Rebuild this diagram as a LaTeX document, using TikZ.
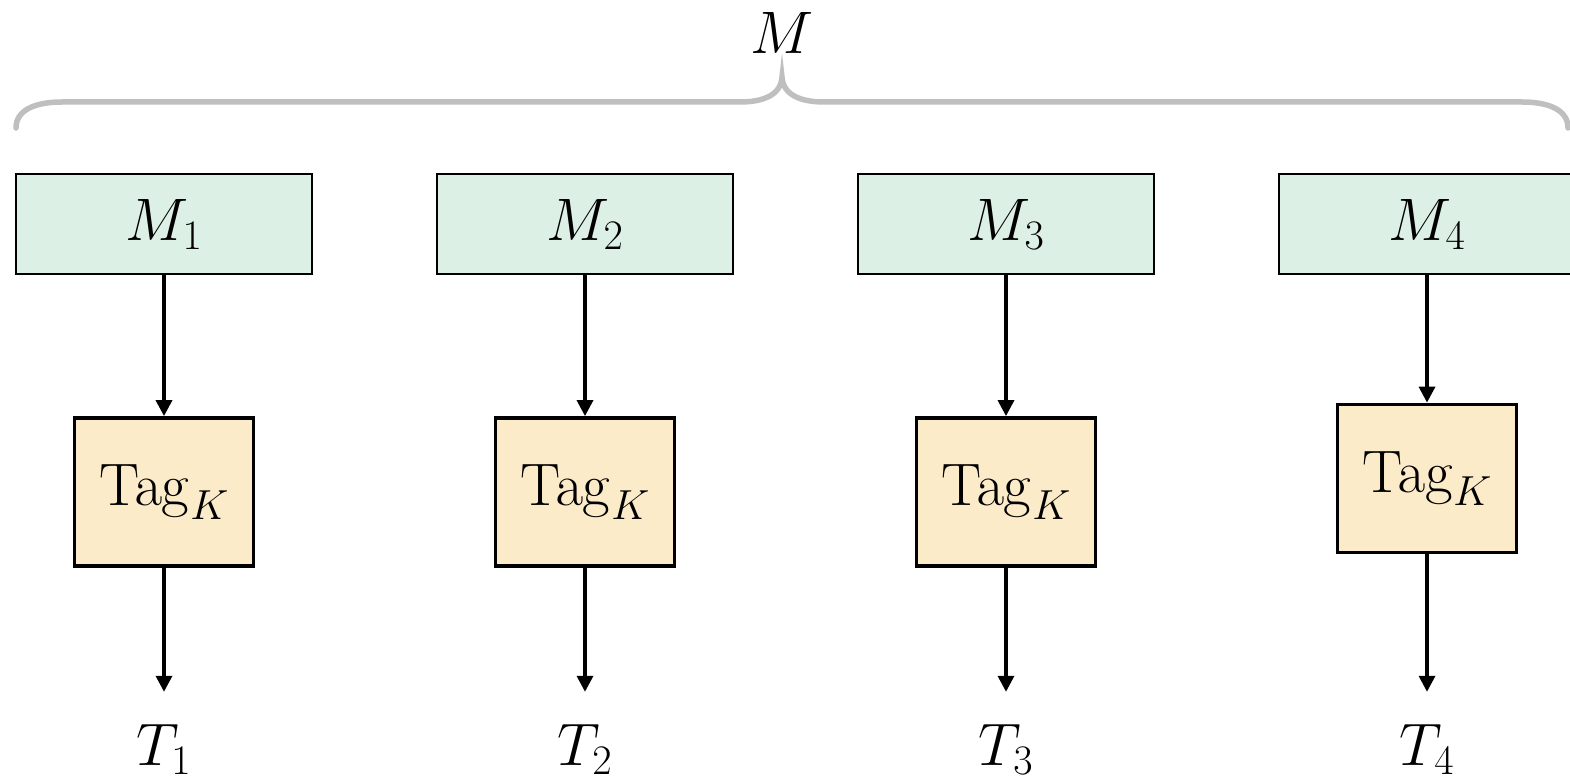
\documentclass[tikz,border=0pt]{standalone}
\usepackage{fix-cm}
\usetikzlibrary{arrows.meta}
\definecolor{mfill}{HTML}{DDF0E6}
\definecolor{tfill}{HTML}{FCEBC8}
\definecolor{bracegray}{HTML}{BFBFBF}
\begin{document}
\begin{tikzpicture}[x=1pt,y=-1pt,
  big/.style={font=\fontsize{60}{72}\selectfont},
  mbox/.style={big,draw=black,line width=2.2pt,fill=mfill,minimum width=296pt,minimum height=100pt,inner sep=0pt},
  tagbox/.style={big,draw=black,line width=3.8pt,fill=tfill,minimum width=179pt,minimum height=148pt,inner sep=0pt},
  outlbl/.style={big,inner sep=0pt,anchor=base},
  arr/.style={line width=3.4pt,-{Triangle[length=16pt,width=16pt]}},
  bracestyle/.style={draw=bracegray,line width=5.5pt,line cap=round}]
\useasboundingbox (0,0) rectangle (1570,781);
% brace
\coordinate (bl) at (16,128);
\coordinate (bt) at (782,77);
\coordinate (br) at (1568,128);
\draw[bracestyle] (bl) .. controls (16,110) and (35,102) .. (62,102) -- (740,102)
  .. controls (765,102) and (781,94) .. (bt)
  .. controls (783,94) and (799,102) .. (824,102) -- (1522,102)
  .. controls (1549,102) and (1568,110) .. (br);
\node[big] (mlabel) at (782,33) {$M$};
% columns
\foreach \i/\x/\ty in {1/164/492,2/585/492,3/1006/492,4/1427/478.5}{
  \node[mbox] (m\i) at (\x,224) {\raisebox{-3pt}{$M_{\i}$}};
  \node[tagbox] (t\i) at (\x,\ty) {$\mathrm{Tag}_K$};
  \node[outlbl] (o\i) at (\x,765) {$T_{\i}$};
  \draw[arr] (m\i.south) -- (t\i.north);
  \draw[arr,shorten >=32pt] (t\i.south) -- (o\i.north);
}
\end{tikzpicture}
\end{document}
